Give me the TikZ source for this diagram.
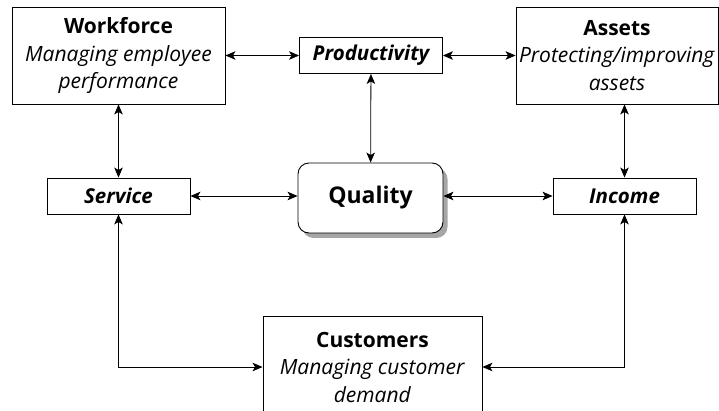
\documentclass[tikz,border=0pt]{standalone}
\usepackage{fontspec}
\setmainfont{Open Sans}
\usetikzlibrary{arrows.meta,shadows}

\tikzset{
  bigbox/.style={draw, line width=0.9pt, minimum width=213pt, minimum height=97pt,
    align=center, inner sep=0pt, font=\fontsize{21}{27.5}\selectfont},
  smallbox/.style={draw, line width=0.9pt, minimum width=143pt, minimum height=36pt,
    inner sep=0pt, font=\fontsize{20.5}{22}\selectfont\bfseries\itshape},
  qualitybox/.style={draw, line width=0.9pt, rounded corners=11pt, fill=white,
    minimum width=145pt, minimum height=70pt, inner sep=0pt,
    font=\fontsize{23}{26}\selectfont\bfseries,
    drop shadow={shadow xshift=4.5pt, shadow yshift=-5pt, fill=black!35, opacity=1}},
  link/.style={line width=0.8pt, {Stealth[length=10pt,width=8.5pt,inset=2.5pt]}-{Stealth[length=10pt,width=8.5pt,inset=2.5pt]}}
}

\begin{document}
\begin{tikzpicture}[x=1pt,y=-1pt]
\useasboundingbox (0,0) rectangle (719,411);
\clip (0,0) rectangle (719,411);
\node[bigbox] (workforce) at (118.5, 55.5) {\textbf{Workforce}\\\textit{Managing employee}\\\textit{performance}};
\node[smallbox] (productivity) at (371, 55.5) {Productivity};
\node[bigbox, minimum width=202pt] (assets) at (617, 55.5) {\textbf{Assets}\\\textit{Protecting/improving}\\\textit{assets}};
\node[smallbox] (service) at (118.5, 196) {Service};
\node[qualitybox] (quality) at (370.5, 198) {Quality};
\node[smallbox] (income) at (624.5, 196) {Income};
\node[bigbox, minimum width=219pt, minimum height=102pt] (customers) at (372.5, 367) {\textbf{Customers}\\\textit{Managing customer}\\\textit{demand}};

\draw[link] (workforce) -- (productivity);
\draw[link] (productivity) -- (assets.west |- productivity);
\draw[link] (workforce) -- (service);
\draw[link] (productivity) -- (quality);
\draw[link] (income.north |- assets.south) -- (income);
\draw[link] (service) -- (quality.west |- service);
\draw[link] (quality.east |- income) -- (income);
\draw[link] (service) |- (customers);
\draw[link] (income) |- (customers);
\end{tikzpicture}
\end{document}
